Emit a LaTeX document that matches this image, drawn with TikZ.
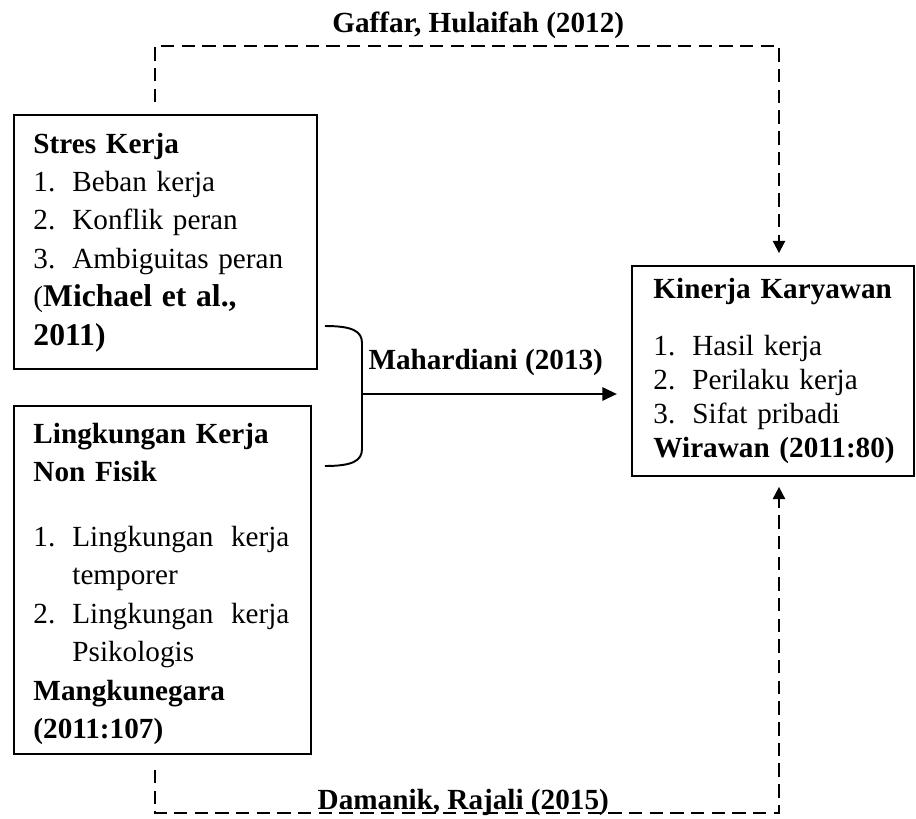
\documentclass[tikz,border=0pt]{standalone}
\usepackage{fontspec}
\setmainfont{Liberation Serif}
\usetikzlibrary{arrows.meta}
\tikzstyle{box}=[draw,line width=0.8pt,inner sep=0pt,anchor=north west]
\tikzstyle{boxtext}=[inner sep=0pt,anchor=base west,align=left,font=\fontsize{12}{15.8}\selectfont]
\tikzstyle{dashededge}=[draw,line width=0.8pt,dash pattern=on 5.5pt off 3pt,-{Triangle[length=5pt,width=5pt]}]
\tikzstyle{solidedge}=[draw,line width=0.8pt,-{Triangle[length=6pt,width=5.5pt]}]
\tikzstyle{citation}=[font=\fontsize{12}{14}\selectfont\bfseries,anchor=base,inner sep=0pt]
\newcommand{\nomor}[1]{\makebox[16pt][l]{#1}}

\begin{document}
\begin{tikzpicture}[x=0.411pt,y=-0.411pt]
    \useasboundingbox (0,0) rectangle (916,819);
    % First we draw the boxes
    \node[box, minimum width=124.5pt, minimum height=104.4pt] (stres) at (13,114) {};
    \node[box, minimum width=122.1pt, minimum height=143.0pt] (lingkungan) at (13,405) {};
    \node[box, minimum width=115.9pt, minimum height=86.3pt] (kinerja) at (631,265) {};

    % Texts inside the boxes
    \node[boxtext, text width=115pt] (stresteks) at (33,153) {%
        \textbf{Stres Kerja}\\
        \nomor{1.}Beban kerja\\
        \nomor{2.}Konflik peran\\
        \nomor{3.}Ambiguitas peran\\
        ({\fontsize{13}{16}\selectfont\bfseries Michael et al.,}\\
        {\fontsize{13}{16}\selectfont\bfseries 2011)}};
    \node[boxtext, text width=105.2pt] (lingkunganteks) at (33,443) {%
        \textbf{Lingkungan Kerja}\\
        \textbf{Non Fisik}\\[10.9pt]
        \nomor{1.}Lingkungan\hfill kerja\\
        \hspace*{16pt}temporer\\
        \nomor{2.}Lingkungan\hfill kerja\\
        \hspace*{16pt}Psikologis\\
        \textbf{Mangkunegara}\\
        \textbf{(2011:107)}};
    \node[boxtext, text width=105pt, font=\fontsize{12}{14}\selectfont] (kinerjateks) at (653,298) {%
        \textbf{Kinerja Karyawan}\\[9.5pt]
        \nomor{1.}Hasil kerja\\
        \nomor{2.}Perilaku kerja\\
        \nomor{3.}Sifat pribadi\\
        \textbf{Wirawan (2011:80)}};

    % Brace joining the two left boxes, then the arrow
    \coordinate (bracetop) at (325,326);
    \coordinate (bracebot) at (325,466);
    \coordinate (bracemid) at (362,394);
    \draw[line width=0.8pt] (bracetop) .. controls (352,326) and (362,331) .. (362,343)
        -- (362,449) .. controls (362,461) and (352,466) .. (bracebot);
    \path[solidedge, shorten >=5.8pt] (bracemid) --
        node[citation, pos=0.46, yshift=9.9pt] {Mahardiani (2013)} (bracemid -| kinerja.west);

    % Dashed connections over the top and under the bottom
    \coordinate (topleft) at (155,46);
    \coordinate (topright) at (779,46);
    \path[dashededge, shorten <=4.9pt, shorten >=4.9pt] (stres.north -| topleft) -- (topleft) --
        node[citation, pos=0.518, yshift=5.75pt] {Gaffar, Hulaifah (2012)} (topright) -- (topright |- kinerja.north);

    \coordinate (botleft) at (155,813);
    \coordinate (botright) at (779,813);
    \path[dashededge, shorten <=6.2pt, shorten >=4.1pt] (lingkungan.south -| botleft) -- (botleft) --
        node[citation, pos=0.494, yshift=1.6pt] {Damanik, Rajali (2015)} (botright) -- (botright |- kinerja.south);
\end{tikzpicture}
\end{document}
